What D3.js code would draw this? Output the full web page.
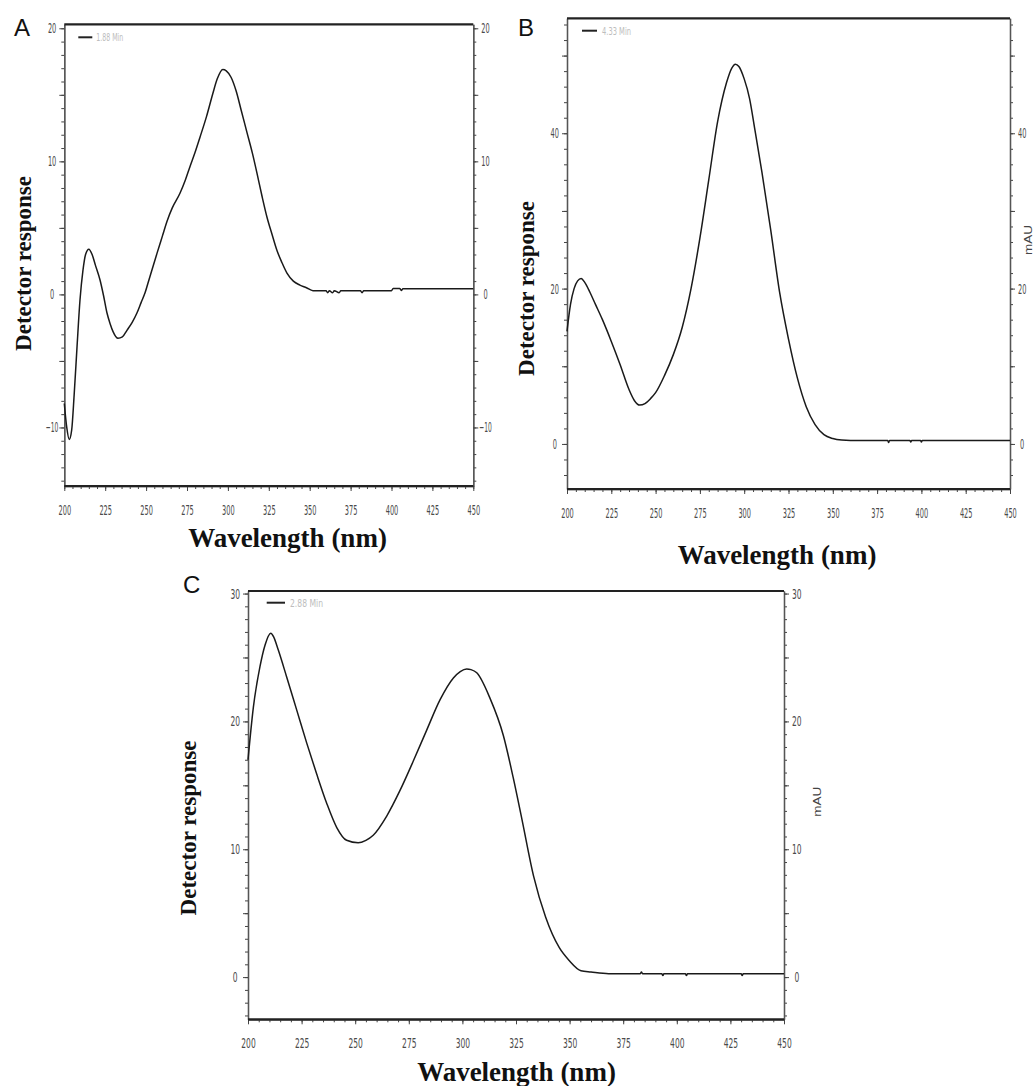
<!DOCTYPE html>
<html><head><meta charset="utf-8">
<script src="https://cdn.jsdelivr.net/npm/d3@7"></script>
<style>body{margin:0;background:#fff}svg{display:block}</style>
</head><body>
<svg id="chart" width="1035" height="1086"></svg>
<script>
// ---------- data ----------
const panelLetters = ["A", "B", "C"];
const legendLabels = ["1.88 Min", "4.33 Min", "2.88 Min"];
const xTickLabels = [200, 225, 250, 275, 300, 325, 350, 375, 400, 425, 450];
const aYTicks = [-10, 0, 10, 20];
const bYTicks = [0, 20, 40];
const cYTicks = [0, 10, 20, 30];
const xTitle = "Wavelength (nm)";
const yTitle = "Detector response";
const unitLabel = "mAU";

const aWavelength = [200,201.5,203,204.5,206,207.8,209.6,211.4,213,215,217,219,221.8,224,226.1,228,229.8,232.8,235.5,238.3,241.5,244.4,247,249.3,252,256.7,260,262.8,266,270.7,274,276.8,280,282.9,287,290.8,293.5,296.9,299,302,305,308,311.6,315,317.8,321,323.9,327,330,333,336.1,340,344,348,352,360,361,362,364,365,368,369,381,382,383,400,401,405,406,407,450];
const aResponse   = [-8.2,-10.0,-10.9,-10.2,-7.6,-3.9,-0.4,1.8,3.0,3.4,3.0,2.2,1.1,-0.1,-1.4,-2.2,-2.8,-3.3,-3.2,-2.7,-2.1,-1.4,-0.6,0.1,1.2,3.1,4.4,5.5,6.5,7.6,8.6,9.6,10.7,11.8,13.4,15.1,16.2,16.9,16.8,16.3,15.3,13.9,12.2,10.6,9.1,7.3,5.8,4.5,3.3,2.4,1.6,1.0,0.7,0.5,0.28,0.28,0.12,0.28,0.12,0.28,0.12,0.28,0.28,0.12,0.28,0.28,0.45,0.45,0.3,0.43,0.43];

const bWavelength = [200,202,204,206,208,210,213,216,220,225,230,235,238,241,244,247,250,255,260,265,270,275,280,285,290,293,295,297,300,303,306,310,315,320,325,330,335,340,345,350,355,360,381,381.5,382,393.5,394,394.5,399.5,400,400.5,450];
const bResponse   = [14.5,18.0,20.0,21.0,21.3,20.8,19.5,18.0,16.0,13.2,10.2,7.0,5.6,5.0,5.2,5.8,6.6,8.8,11.5,15.0,20.0,26.5,34.0,41.5,46.5,48.4,48.9,48.6,47.0,44.5,40.5,35.0,27.5,19.5,13.5,8.5,4.8,2.5,1.2,0.7,0.5,0.45,0.45,0.2,0.45,0.45,0.25,0.45,0.45,0.25,0.45,0.45];

const cWavelength = [200,202.5,205.6,208,210.6,212,214.1,218,222.7,227.4,232,236.7,241.4,246,251.4,255,258.4,264.7,270.9,277.1,283.3,289.6,295.8,299,302,304,306.7,312.9,319.1,323.7,327.7,333.2,338.8,345.2,349.8,355.3,360,368.2,383,383.5,384,393,393.5,394,404,404.5,405,430,430.5,431,450];
const cResponse   = [17.0,21.1,24.3,26.0,26.9,26.6,25.6,23.5,20.9,18.3,15.9,13.6,11.7,10.7,10.5,10.7,11.1,12.6,14.6,16.9,19.3,21.7,23.4,23.9,24.1,24.05,23.8,21.8,18.9,15.6,12.4,7.9,4.7,2.3,1.3,0.5,0.4,0.27,0.27,0.4,0.27,0.27,0.12,0.27,0.27,0.12,0.27,0.27,0.12,0.27,0.27];

// ---------- layout ----------
const panels = [
  {wl: aWavelength, val: aResponse, yTicks: aYTicks, x0: 64.3, x1: 473.3, y0: 24.3, y1: 486, dom: [-14.4, 20.3],
   minor: 1, major: 5, charW: 4.2, letter: [14, 36], legend: [14, 28, 13, 32, 27], ytitle: [23, 263.5], xtitle: [287.5, 547], unit: null},
  {wl: bWavelength, val: bResponse, yTicks: bYTicks, x0: 567, x1: 1010, y0: 18.3, y1: 489, dom: [-5.8, 54.8],
   minor: 2, major: 10, charW: 4.2, letter: [518, 36], legend: [15, 30, 12.4, 35, 29], ytitle: [525.5, 288.5], xtitle: [777, 564], unit: [1028, 240]},
  {wl: cWavelength, val: cResponse, yTicks: cYTicks, x0: 248, x1: 784, y0: 591, y1: 1019.3, dom: [-3.3, 30.2],
   minor: 1, major: 5, charW: 4.8, letter: [183, 593], legend: [18.7, 37, 11.7, 42, 33], ytitle: [188, 828], xtitle: [516.5, 1081], unit: [816.7, 801.7]}
];

const svg = d3.select("#chart");
svg.append("rect").attr("width", 1035).attr("height", 1086).attr("fill", "#fff");
const tickFont = "'Liberation Sans Narrow','DejaVu Sans Condensed','Liberation Sans',sans-serif";

panels.forEach((p, i) => {
  const g = svg.append("g");
  const x = d3.scaleLinear().domain([200, 450]).range([p.x0, p.x1]);
  const y = d3.scaleLinear().domain(p.dom).range([p.y1, p.y0]);

  const minorY = d3.range(Math.ceil(p.dom[0] / p.minor) * p.minor, p.dom[1] + 1e-9, p.minor);
  const majorY = minorY.filter(v => Math.abs(v / p.major - Math.round(v / p.major)) < 1e-6);
  const minorX = d3.range(200, 450.01, 5);
  const majorX = minorX.filter(v => v % 25 === 0);

  function styleAxis(sel) {
    sel.select(".domain").attr("stroke", "#555").attr("stroke-width", 1.3);
    sel.selectAll(".tick line").attr("stroke", "#444").attr("stroke-width", 1);
  }
  function styleText(sel, cw) {
    sel.selectAll("text")
      .attr("font-family", tickFont).attr("font-size", 14).attr("fill", "#4a4a4a")
      .attr("textLength", function () { return this.textContent.length * cw; })
      .attr("lengthAdjust", "spacingAndGlyphs");
  }

  // left axis
  const la = g.append("g").attr("transform", `translate(${p.x0},0)`)
    .call(d3.axisLeft(y).tickValues(minorY).tickSize(3).tickSizeOuter(0).tickFormat(""));
  styleAxis(la);
  const laM = g.append("g").attr("transform", `translate(${p.x0},0)`)
    .call(d3.axisLeft(y).tickValues(majorY).tickSize(5).tickSizeOuter(0).tickFormat(""));
  styleAxis(laM);
  const laL = g.append("g").attr("transform", `translate(${p.x0},0)`)
    .call(d3.axisLeft(y).tickValues(p.yTicks).tickSize(0).tickPadding(8).tickSizeOuter(0).tickFormat(d3.format("d")));
  laL.select(".domain").remove();
  styleText(laL, p.charW);
  laL.selectAll("text").attr("text-anchor", "middle").attr("x", -8 - p.charW);

  // right axis
  const ra = g.append("g").attr("transform", `translate(${p.x1},0)`)
    .call(d3.axisRight(y).tickValues(minorY).tickSize(3).tickSizeOuter(0).tickFormat(""));
  styleAxis(ra);
  const raM = g.append("g").attr("transform", `translate(${p.x1},0)`)
    .call(d3.axisRight(y).tickValues(majorY).tickSize(5).tickSizeOuter(0).tickFormat(""));
  styleAxis(raM);
  const raL = g.append("g").attr("transform", `translate(${p.x1},0)`)
    .call(d3.axisRight(y).tickValues(p.yTicks).tickSize(0).tickSizeOuter(0).tickFormat(d3.format("d")));
  raL.select(".domain").remove();
  styleText(raL, p.charW);
  raL.selectAll("text").attr("text-anchor", "middle").attr("x", 8 + p.charW);

  // bottom axis
  const ba = g.append("g").attr("transform", `translate(0,${p.y1})`)
    .call(d3.axisBottom(x).tickValues(minorX).tickSize(3).tickSizeOuter(0).tickFormat(""));
  styleAxis(ba);
  const baM = g.append("g").attr("transform", `translate(0,${p.y1})`)
    .call(d3.axisBottom(x).tickValues(majorX).tickSize(5).tickSizeOuter(0).tickFormat(""));
  styleAxis(baM);
  const baL = g.append("g").attr("transform", `translate(0,${p.y1})`)
    .call(d3.axisBottom(x).tickValues(xTickLabels).tickSize(0).tickSizeOuter(0).tickFormat(d3.format("d")));
  baL.select(".domain").remove();
  styleText(baL, p.charW);
  baL.selectAll("text").attr("y", 24).attr("dy", "0.35em");

  // thick top and bottom frame
  g.append("line").attr("x1", p.x0).attr("x2", p.x1).attr("y1", p.y0).attr("y2", p.y0)
    .attr("stroke", "#222").attr("stroke-width", 2.2);
  g.append("line").attr("x1", p.x0).attr("x2", p.x1).attr("y1", p.y1).attr("y2", p.y1)
    .attr("stroke", "#222").attr("stroke-width", 2.2);

  // curve
  const pts = p.wl.map((w, k) => [w, p.val[k]]);
  const line = d3.line().x(d => x(d[0])).y(d => y(d[1])).curve(d3.curveMonotoneX);
  g.append("path").datum(pts).attr("d", line).attr("fill", "none")
    .attr("stroke", "#1a1a1a").attr("stroke-width", 1.5).attr("stroke-linejoin", "round");

  // legend
  const L = p.legend;
  g.append("line").attr("x1", p.x0 + L[0]).attr("x2", p.x0 + L[1]).attr("y1", p.y0 + L[2]).attr("y2", p.y0 + L[2])
    .attr("stroke", "#222").attr("stroke-width", 2);
  g.append("text").attr("x", p.x0 + L[3]).attr("y", p.y0 + L[2]).attr("dy", "0.35em")
    .attr("font-family", tickFont).attr("font-size", 11).attr("fill", "#bdbdbd")
    .attr("textLength", L[4]).attr("lengthAdjust", "spacingAndGlyphs").text(legendLabels[i]);

  // panel letter
  g.append("text").attr("x", p.letter[0]).attr("y", p.letter[1])
    .attr("font-family", "'Liberation Sans',Arial,sans-serif").attr("font-size", 24).attr("fill", "#111")
    .text(panelLetters[i]);

  // titles
  g.append("text").attr("transform", `translate(${p.ytitle[0]},${p.ytitle[1]}) rotate(-90)`)
    .attr("text-anchor", "middle").attr("dy", "0.35em")
    .attr("font-family", "'Liberation Serif','Times New Roman',serif").attr("font-weight", "bold")
    .attr("font-size", 23).attr("fill", "#111").text(yTitle);
  g.append("text").attr("x", p.xtitle[0]).attr("y", p.xtitle[1]).attr("text-anchor", "middle")
    .attr("font-family", "'Liberation Serif','Times New Roman',serif").attr("font-weight", "bold")
    .attr("font-size", 27).attr("fill", "#111").text(xTitle);

  if (p.unit) {
    g.append("text").attr("transform", `translate(${p.unit[0]},${p.unit[1]}) rotate(-90)`)
      .attr("text-anchor", "middle").attr("dy", "0.35em")
      .attr("font-family", "'Liberation Sans',Arial,sans-serif").attr("font-size", 11).attr("fill", "#444")
      .attr("textLength", 30).attr("lengthAdjust", "spacingAndGlyphs").text(unitLabel);
  }
});
</script>
</body></html>
